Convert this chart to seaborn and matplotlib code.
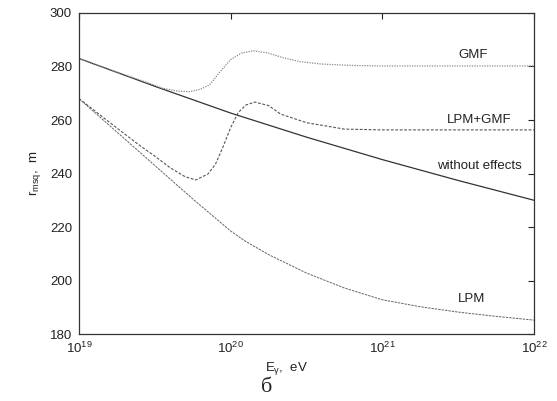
import numpy as np
import pandas as pd
import seaborn as sns
import matplotlib.pyplot as plt

# log10(E / eV) and r_msq values
logE_none = [19.0, 19.5, 20.0, 20.5, 21.0, 21.5, 22.0]
r_none = [283.0, 272.6, 262.6, 253.6, 245.2, 237.4, 230.0]

logE_gmf = [19.0, 19.25, 19.45, 19.55, 19.65, 19.73, 19.8, 19.86, 19.93, 20.0,
            20.07, 20.15, 20.25, 20.35, 20.46, 20.6, 20.8, 21.0, 22.0]
r_gmf = [283.0, 277.9, 274.0, 271.9, 270.8, 270.6, 271.5, 273.1, 278.0, 282.6,
         285.0, 285.9, 285.0, 283.2, 281.8, 280.9, 280.4, 280.2, 280.2]

logE_lpmgmf = [19.0, 19.25, 19.4, 19.5, 19.6, 19.7, 19.77, 19.85, 19.9, 19.95,
               20.0, 20.05, 20.1, 20.16, 20.25, 20.33, 20.5, 20.75, 21.0, 22.0]
r_lpmgmf = [268.0, 257.0, 250.5, 246.5, 242.2, 238.8, 237.6, 239.8, 243.5, 250.0,
            257.2, 262.8, 265.6, 266.7, 265.4, 262.2, 259.0, 256.6, 256.3, 256.3]

logE_lpm = [19.0, 19.25, 19.5, 19.75, 19.9, 20.0, 20.1, 20.25, 20.5, 20.75, 21.0,
            21.25, 21.5, 21.75, 22.0]
r_lpm = [268.0, 255.5, 243.0, 230.5, 223.3, 218.5, 214.6, 209.7, 202.8, 197.2,
         192.8, 190.2, 188.2, 186.6, 185.2]

# curve labels: (text, log10 E, r)
curve_labels = [('GMF', 21.6, 284.3), ('LPM+GMF', 21.64, 260.0),
                ('without effects', 21.64, 242.8), ('LPM', 21.59, 193.0)]

sns.set_style('white')
plt.rcParams['font.family'] = ['Liberation Sans', 'DejaVu Sans']
plt.rcParams['mathtext.fontset'] = 'custom'
plt.rcParams['mathtext.rm'] = 'Liberation Sans'
plt.rcParams['mathtext.it'] = 'Liberation Sans:italic'

fig = plt.figure(figsize=(5.57, 4.01), dpi=100)
ax = fig.add_axes([0.1418, 0.167, 0.8169, 0.8006])

curves = [
    (logE_none, r_none, dict(color='#333333', lw=0.9, ls='-')),
    (logE_gmf, r_gmf, dict(color='#8a8a8a', lw=0.9, ls=(0, (1, 1)))),
    (logE_lpmgmf, r_lpmgmf, dict(color='#555555', lw=0.8, ls=(0, (2.5, 1.5)))),
    (logE_lpm, r_lpm, dict(color='#666666', lw=0.7, ls=(0, (2.5, 1)))),
]
for lx, ry, st in curves:
    df = pd.DataFrame({'E': 10.0 ** np.array(lx), 'r': ry})
    sns.lineplot(data=df, x='E', y='r', ax=ax, sort=False, **st)

for txt, lx, ry in curve_labels:
    ax.text(10 ** lx, ry, txt, ha='center', va='center', fontsize=9.5, color='#222222')

ax.set_xscale('log')
ax.set_xlim(1e19, 1e22)
ax.set_ylim(180, 300)
ax.set_xticks([1e19, 1e20, 1e21, 1e22])
ax.set_xticklabels([r'$\mathregular{10^{19}}$', r'$\mathregular{10^{20}}$',
                    r'$\mathregular{10^{21}}$', r'$\mathregular{10^{22}}$'])
ax.minorticks_off()
ax.set_yticks(range(180, 301, 20))
ax.tick_params(direction='in', top=True, right=True, length=4, width=0.8,
               labelsize=9.5, colors='#222222', pad=5)

for s in ax.spines.values():
    s.set_color('#333333')
    s.set_linewidth(0.9)

ax.set_xlabel(r'$\mathregular{E_{\gamma}}$,  eV', fontsize=9.5, color='#222222')
ax.xaxis.set_label_coords(0.457, -0.082)
ax.set_ylabel(r'$\mathregular{r_{msq}}$,  m', fontsize=9.5, color='#222222')
ax.yaxis.set_label_coords(-0.078, 0.5)

fig.text(267 / 557, 1 - 387 / 401, 'б', ha='center', va='center',
         fontsize=16, family='Liberation Serif')

fig.savefig('out.png', dpi=100)
